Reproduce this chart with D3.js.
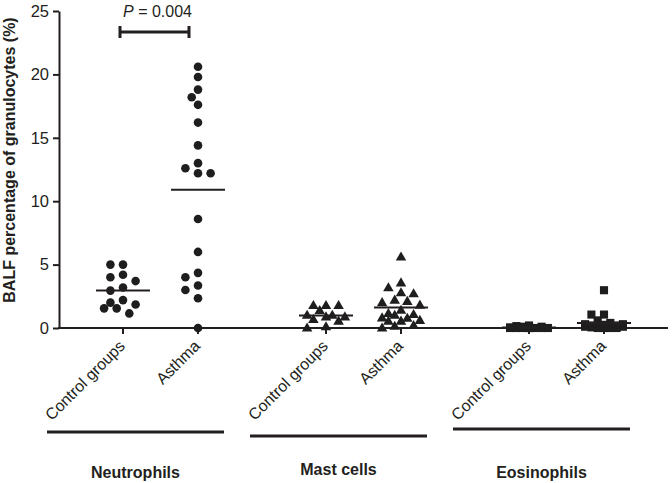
<!DOCTYPE html>
<html>
<head>
<meta charset="utf-8">
<script src="https://cdn.jsdelivr.net/npm/d3@7"></script>
<style>
  html, body { margin: 0; padding: 0; background: #fff; }
  svg { display: block; }
  text { font-family: "Liberation Sans", Arial, Helvetica, sans-serif; fill: #231f20; }
</style>
</head>
<body>
<svg id="chart" width="672" height="483"></svg>
<script>
// ---------- data ----------
const groups = ["Neutrophils", "Mast cells", "Eosinophils"];
const subgroups = ["Control groups", "Asthma"];
const symbolTypes = ["circle", "triangle", "square"];
const yTicks = [0, 5, 10, 15, 20, 25];
const yTitle = "BALF percentage of granulocytes (%)";
const pValueLabel = "0.004";

const neutrophilsControl = [5.0, 5.0, 4.2, 4.0, 3.7, 3.2, 2.95, 2.2, 2.0, 1.85, 1.55, 1.55, 1.15];
const neutrophilsAsthma = [20.6, 19.8, 18.8, 18.2, 17.6, 16.2, 14.4, 13.0, 12.6, 12.2, 12.2, 8.6, 6.0, 4.35, 4.0, 3.35, 3.0, 2.35, 0];
const mastControl = [1.77, 1.77, 1.77, 1.38, 1.0, 1.0, 0.88, 0.88, 0.67, 0.54, 0.1, 0];
const mastAsthma = [5.6, 3.56, 3.17, 2.78, 2.7, 2.2, 2.1, 2.0, 1.8, 1.4, 1.14, 1.06, 1.0, 0.8, 0.77, 0.6, 0.54, 0.54, 0.2, 0.14, 0];
const eosinophilsControl = [0.2, 0.15, 0.1, 0.1, 0.05, 0, 0, 0, 0, 0, 0, 0, 0];
const eosinophilsAsthma = [2.98, 1.06, 1.06, 0.6, 0.4, 0.3, 0.3, 0.25, 0.2, 0.2, 0.15, 0.15, 0.1, 0.1, 0.1, 0.05, 0, 0, 0, 0];

const seriesValues = [
  [neutrophilsControl, neutrophilsAsthma],
  [mastControl, mastAsthma],
  [eosinophilsControl, eosinophilsAsthma]
];

// ---------- layout ----------
const svg = d3.select("#chart");
const ink = "#231f20";
const axisX0 = 59, axisX1 = 668;
const underlineY = [432, 436, 429];
const groupLabelY = [478, 475, 478];

const y = d3.scaleLinear().domain([0, 25]).range([328, 11]);
const xGroup = d3.scalePoint().domain(groups).range([160.5, 566.5]);
const xSub = d3.scalePoint().domain(subgroups).range([-37.5, 37.5]);
const xPos = (g, s) => xGroup(g) + xSub(s);

// symbols
const symbolMap = {
  circle: { type: d3.symbolCircle, size: 58, D: 9 },
  triangle: { type: d3.symbolTriangle, size: 48, D: 9 },
  square: { type: d3.symbolSquare, size: 66, D: 8.5 }
};

// Prism-like column scatter: columns at fixed steps, max +-3 columns
function swarm(values, D) {
  const step = 6.3, maxCol = 3;
  const cols = [0];
  for (let k = 1; k <= maxCol; k++) cols.push(-k, k);
  const placed = [];
  const sorted = values.slice().sort((a, b) => b - a);
  sorted.forEach(v => {
    const py = y(v);
    let best = null, bestScore = -Infinity;
    for (const c of cols) {
      const px = c * step;
      let minD = Infinity;
      for (const q of placed) {
        const d = Math.hypot(q.x - px, q.y - py);
        if (d < minD) minD = d;
      }
      if (minD >= D) { best = px; bestScore = Infinity; break; }
      if (minD > bestScore + 1e-9) { bestScore = minD; best = px; }
    }
    placed.push({ v, x: best, y: py });
  });
  return placed;
}

// ---------- y axis ----------
const yAxis = d3.axisLeft(y).tickValues(yTicks).tickSize(6).tickSizeOuter(0).tickPadding(4);
const gy = svg.append("g").attr("transform", `translate(${axisX0},0)`).call(yAxis);
gy.select(".domain").attr("stroke", ink).attr("stroke-width", 2);
gy.selectAll(".tick line").attr("stroke", ink).attr("stroke-width", 2);
gy.selectAll(".tick text").attr("font-size", 16.5).attr("fill", ink)
  .attr("font-family", '"Liberation Sans", Arial, Helvetica, sans-serif');

svg.append("text")
  .attr("transform", `translate(15,160) rotate(-90)`)
  .attr("text-anchor", "middle")
  .attr("font-size", 16).attr("font-weight", "bold")
  .text(yTitle);

// ---------- x axis ----------
svg.append("line")
  .attr("x1", axisX0 - 1).attr("x2", axisX1)
  .attr("y1", y(0)).attr("y2", y(0))
  .attr("stroke", ink).attr("stroke-width", 2);

groups.forEach((g, gi) => {
  subgroups.forEach((s, si) => {
    const x = xPos(g, s);
    svg.append("line")
      .attr("x1", x).attr("x2", x).attr("y1", y(0)).attr("y2", y(0) + 6)
      .attr("stroke", ink).attr("stroke-width", 2);
    svg.append("text")
      .attr("transform", `translate(${x + 3},347) rotate(-45)`)
      .attr("text-anchor", "end")
      .attr("font-size", 16)
      .text(s);
  });
  // group underline + name
  const left = xPos(g, subgroups[0]) - 76;
  const right = xPos(g, subgroups[1]) + 26;
  svg.append("line")
    .attr("x1", left).attr("x2", right).attr("y1", underlineY[gi]).attr("y2", underlineY[gi])
    .attr("stroke", ink).attr("stroke-width", 3);
  svg.append("text")
    .attr("x", (left + right) / 2).attr("y", groupLabelY[gi])
    .attr("text-anchor", "middle")
    .attr("font-size", 16).attr("font-weight", "bold")
    .text(g);
});

// ---------- points + mean lines ----------
groups.forEach((g, gi) => {
  const sym = symbolMap[symbolTypes[gi]];
  const gen = d3.symbol().type(sym.type).size(sym.size);
  subgroups.forEach((s, si) => {
    const vals = seriesValues[gi][si];
    const cx = xPos(g, s);
    const pts = swarm(vals, sym.D);
    svg.append("g").selectAll("path").data(pts).join("path")
      .attr("d", gen)
      .attr("transform", d => `translate(${cx + d.x},${d.y + (symbolTypes[gi] === "triangle" ? 0.5 : 0)})`)
      .attr("fill", "#1e1e1e");
    const m = d3.mean(vals);
    svg.append("line")
      .attr("x1", cx - 27).attr("x2", cx + 27)
      .attr("y1", y(m)).attr("y2", y(m))
      .attr("stroke", ink).attr("stroke-width", 2);
  });
});

// ---------- significance bracket ----------
const bx0 = xPos(groups[0], subgroups[0]) - 3;
const bx1 = xPos(groups[0], subgroups[1]) - 9;
const by = 32;
const br = svg.append("g").attr("stroke", ink).attr("stroke-width", 3).attr("fill", "none");
br.append("line").attr("x1", bx0).attr("x2", bx1).attr("y1", by).attr("y2", by);
br.append("line").attr("x1", bx0).attr("x2", bx0).attr("y1", by - 6).attr("y2", by + 6);
br.append("line").attr("x1", bx1).attr("x2", bx1).attr("y1", by - 6).attr("y2", by + 6);

const pt = svg.append("text")
  .attr("x", (bx0 + bx1) / 2 + 3).attr("y", 17)
  .attr("text-anchor", "middle")
  .attr("font-size", 16);
pt.append("tspan").attr("font-style", "italic").text("P");
pt.append("tspan").text(" = " + pValueLabel);
</script>
</body>
</html>
